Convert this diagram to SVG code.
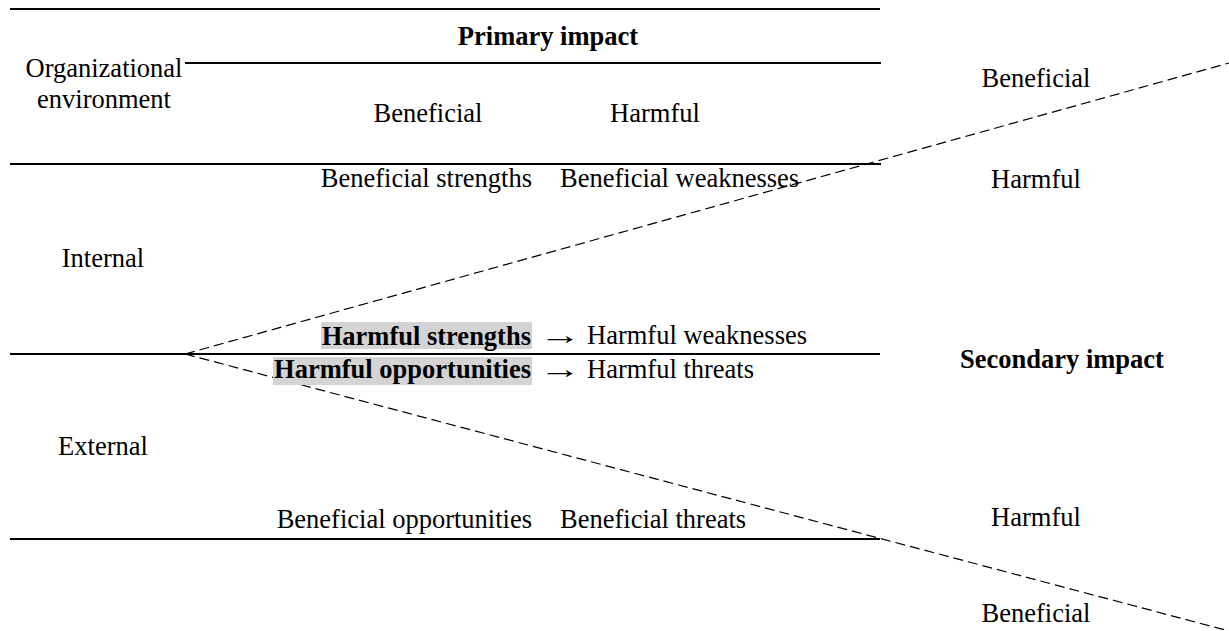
<svg xmlns="http://www.w3.org/2000/svg" width="1229" height="631" viewBox="0 0 1229 631">
<style>
text{font-family:"Liberation Serif","Times New Roman",serif;font-size:26.5px;fill:#000}
.b{font-weight:bold}
.m{text-anchor:middle}
.e{text-anchor:end}
.rule{stroke:#000;stroke-width:2;fill:none}
.dash{stroke:#000;stroke-width:1.2;stroke-dasharray:10 5;fill:none}
.hl{fill:#d4d4d4}
</style>
<rect width="1229" height="631" fill="#fff"/>
<g id="connectors">
<line class="rule" x1="10" y1="9" x2="880" y2="9"/>
<line class="rule" x1="185" y1="63" x2="881" y2="63"/>
<line class="rule" x1="10" y1="164" x2="881" y2="164"/>
<line class="rule" x1="10" y1="354" x2="880" y2="354"/>
<line class="rule" x1="10" y1="539" x2="880" y2="539"/>
<line class="dash" x1="185" y1="354" x2="1229" y2="63"/>
<line class="dash" x1="185" y1="354" x2="1229" y2="631"/>
</g>
<g id="primary-impact"><text class="b m" x="548" y="45">Primary impact</text></g>
<g id="org-env"><text class="m" x="104" y="77">Organizational</text><text class="m" x="104" y="108">environment</text></g>
<g id="head-beneficial"><text class="m" x="428" y="122">Beneficial</text></g>
<g id="head-harmful"><text class="m" x="655" y="122">Harmful</text></g>
<g id="internal"><text class="m" x="103" y="267">Internal</text></g>
<g id="external"><text class="m" x="103" y="455">External</text></g>
<g id="ben-strengths"><text class="e" x="532" y="187">Beneficial strengths</text></g>
<g id="ben-weaknesses"><text x="560" y="187">Beneficial weaknesses</text></g>
<g id="harm-strengths"><rect class="hl" x="321" y="322" width="211" height="27"/><text class="b e" x="531" y="345">Harmful strengths</text></g>
<g id="harm-weaknesses"><text transform="translate(539,344) scale(1.6,1)">→</text><text x="587" y="344">Harmful weaknesses</text></g>
<g id="harm-opportunities"><rect class="hl" x="273" y="357" width="259" height="28"/><text class="b e" x="531" y="378">Harmful opportunities</text></g>
<g id="harm-threats"><text transform="translate(539,378) scale(1.6,1)">→</text><text x="587" y="378">Harmful threats</text></g>
<g id="ben-opportunities"><text class="e" x="532" y="528">Beneficial opportunities</text></g>
<g id="ben-threats"><text x="560" y="528">Beneficial threats</text></g>
<g id="sec-beneficial-top"><text class="m" x="1036" y="87">Beneficial</text></g>
<g id="sec-harmful-top"><text class="m" x="1036" y="188">Harmful</text></g>
<g id="secondary-impact"><text class="b m" x="1062" y="368">Secondary impact</text></g>
<g id="sec-harmful-bottom"><text class="m" x="1036" y="526">Harmful</text></g>
<g id="sec-beneficial-bottom"><text class="m" x="1036" y="622">Beneficial</text></g>
</svg>
